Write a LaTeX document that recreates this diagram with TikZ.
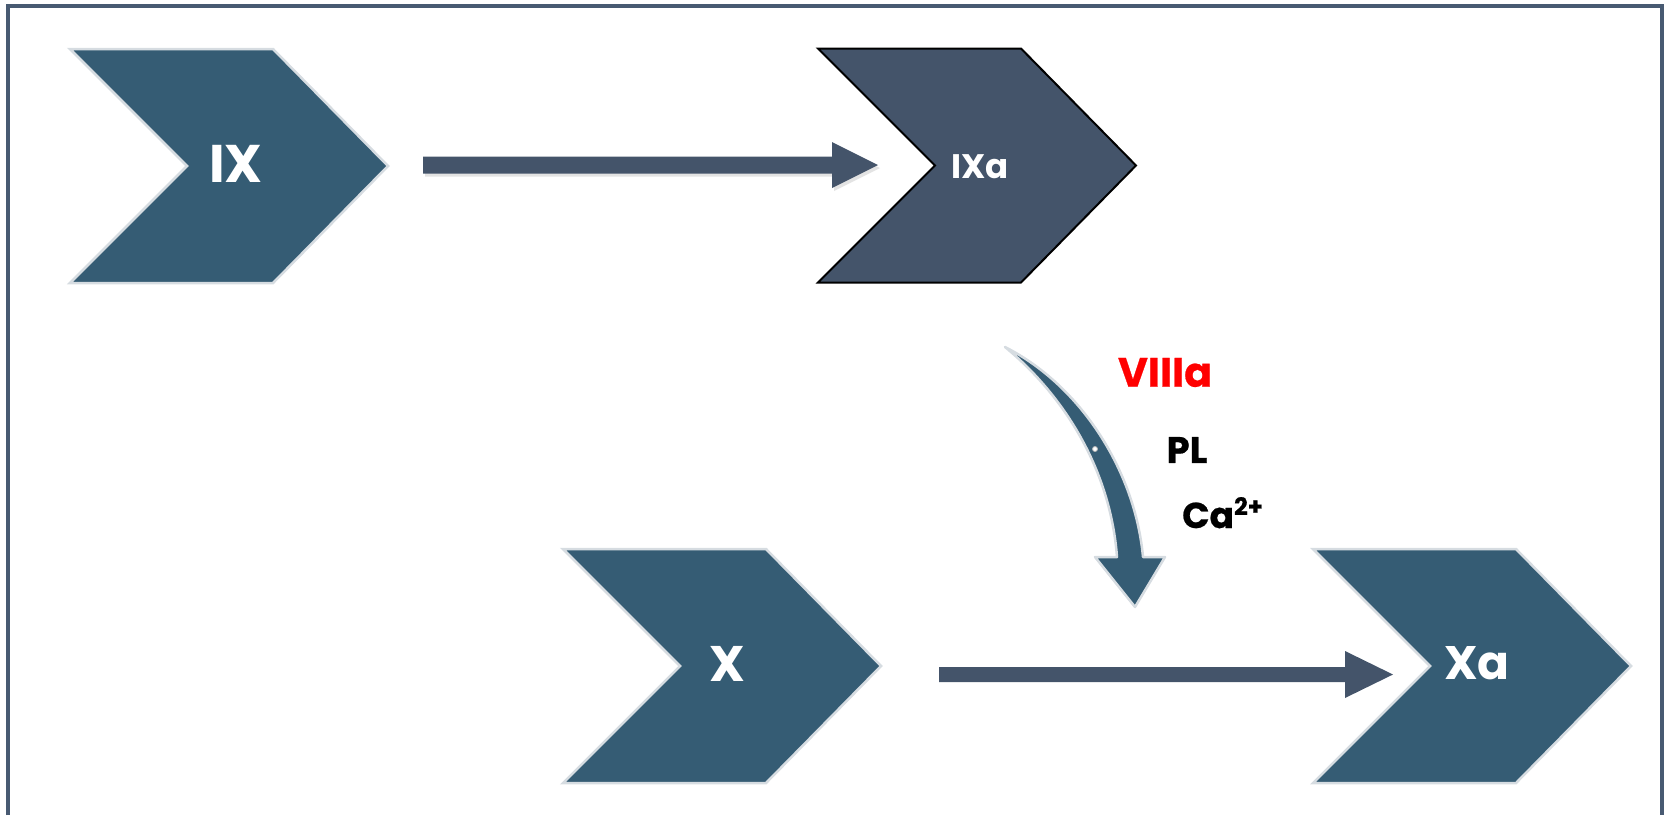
\documentclass[tikz,border=0pt]{standalone}
\usepackage{fontspec}
\setmainfont{Poppins}
\usetikzlibrary{calc,shadows}
\definecolor{chevfill}{HTML}{355C74}
\definecolor{darkfill}{HTML}{44546A}
\definecolor{chevedge}{HTML}{D6DCE1}
\definecolor{framec}{HTML}{485A72}
\tikzset{
  chevron/.pic={\path[pic actions] (0,0) -- (203,0) -- (318,117) -- (203,234) -- (0,234) -- (117,117) -- cycle;},
  chev/.style={fill=chevfill, draw=chevedge, line width=2.5pt, line join=miter},
  chevdark/.style={fill=darkfill, draw=black, line width=2pt, line join=miter},
  blockarrow/.style={fill=darkfill},
  arrowshadow/.style={drop shadow={opacity=0.22, shadow xshift=2pt, shadow yshift=-3pt}},
  lbl/.style={text=white, inner sep=0pt},
  cof/.style={text=black, inner sep=0pt},
  curvearrow/.style={fill=chevfill, draw=chevedge, line width=2.5pt, line join=round},
}
\newcommand\fsz[1]{\bfseries\fontsize{#1}{#1}\selectfont}
\newcommand\hsz[1]{\bfseries\fontsize{#1}{#1}\selectfont\addfontfeatures{FakeBold=0.6}}
\begin{document}
\begin{tikzpicture}[x=1pt,y=-1pt]
\useasboundingbox (0,0) rectangle (1667,815);
% frame
\draw[framec, line width=4pt] (8,815) -- (8,6) -- (1662,6) -- (1662,815);
% chevrons
\pic[chev] at (70,49) {chevron};
\pic[chevdark] at (818,48.5) {chevron};
\pic[chev] at (563,549) {chevron};
\pic[chev] at (1313,549) {chevron};
% labels
\node[lbl, font=\fsz{53}] (ix) at (236,164) {IX};
\node[lbl, font=\fsz{34}] (ixa) at (980,166.5) {IXa};
\node[lbl, font=\fsz{50}] (x) at (727,663.5) {X};
\node[lbl, font=\fsz{47}] (xa) at (1477,663.5) {Xa};
% top arrow
\coordinate (a1s) at (423,165);
\coordinate (a1e) at (878,165);
\fill[blockarrow, arrowshadow] ($(a1s)+(0,-8.5)$) -- ($(a1e)+(-46,-8.5)$) -- ($(a1e)+(-46,-23)$) -- (a1e)
  -- ($(a1e)+(-46,23)$) -- ($(a1e)+(-46,8.5)$) -- ($(a1s)+(0,8.5)$) -- cycle;
% bottom arrow
\coordinate (a2s) at (939,674.5);
\coordinate (a2e) at (1393,674.5);
\fill[blockarrow] ($(a2s)+(0,-7.5)$) -- ($(a2e)+(-48,-7.5)$) -- ($(a2e)+(-48,-23.5)$) -- (a2e)
  -- ($(a2e)+(-48,23.5)$) -- ($(a2e)+(-48,7.5)$) -- ($(a2s)+(0,7.5)$) -- cycle;
% curved arrow
\coordinate (ctail) at (1005,347);
\coordinate (ctip) at (1135,607);
\path[curvearrow] (ctail) .. controls (1060,392) and (1110,465) .. (1117,557)
  -- (1095,557) -- (ctip) -- (1165,557) -- (1143,557)
  .. controls (1135,470) and (1080,385) .. (ctail) -- cycle;
\draw[gray!55, fill=white, line width=0.8pt] (1095,449) circle (2.5pt);
% cofactors
\node[cof, text=red, font=\hsz{41}] (viii) at (1165,372.5) {VIIIa};
\node[cof, font=\hsz{37}] (pl) at (1187,450) {PL};
\node[cof, font=\hsz{36}, anchor=base west] (ca) at (1182,528) {Ca\raisebox{13pt}{\hsz{24}2+}};
\end{tikzpicture}
\end{document}
